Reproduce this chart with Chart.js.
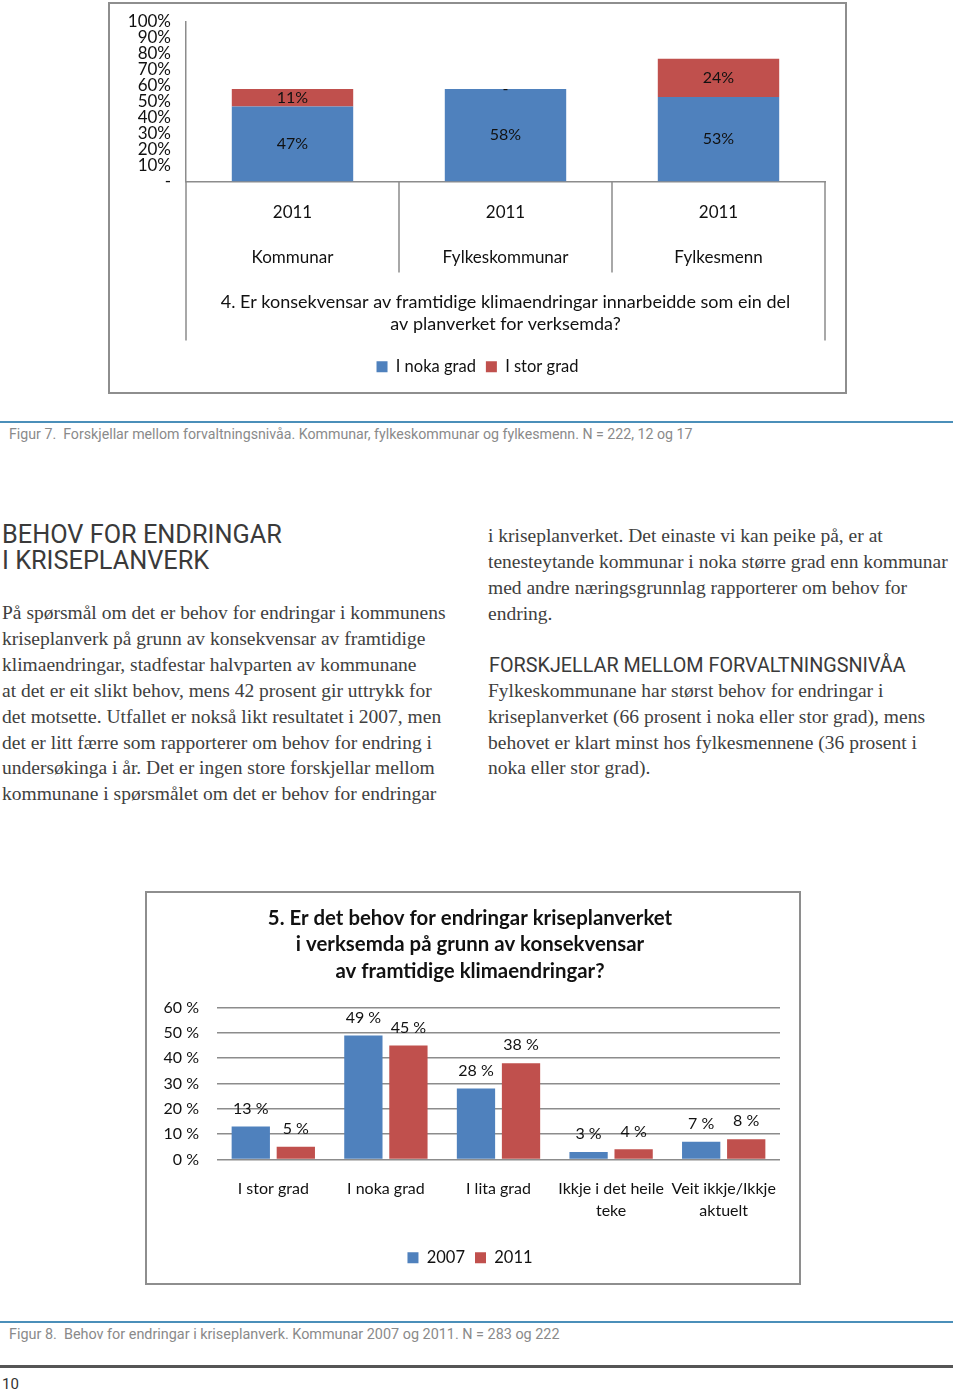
<!DOCTYPE html>
<html>
<head>
<meta charset="utf-8">
<script src="https://cdn.jsdelivr.net/npm/chart.js@4/dist/chart.umd.min.js"></script>
<style>
  body { margin: 0; background: #fff; }
  #page { position: relative; width: 960px; height: 1393px; overflow: hidden; }
  .box { position: absolute; border: 2px solid #8e8e8e; box-sizing: border-box; }
  .rule { position: absolute; left: 0; width: 953px; }
  .caption { position: absolute; left: 9px; font-family: Roboto, sans-serif; font-size: 14.2px; color: #8a8a8a; white-space: pre; }
  .head { position: absolute; font-family: Roboto, sans-serif; color: #3a3a3a; white-space: pre; }
  .col { position: absolute; font-family: "Liberation Serif", serif; font-size: 19.5px; line-height: 25.9px; color: #404040; white-space: pre; }
</style>
</head>
<body>
<div id="page">
  <div class="box" style="left:108px; top:2px; width:739px; height:392px;">
    <canvas id="chart1" width="735" height="388"></canvas>
  </div>
  <div class="rule" style="top:421px; height:2px; background:#4b8fb9;"></div>
  <div class="caption" style="top:426px;">Figur 7.  Forskjellar mellom forvaltningsnivåa. Kommunar, fylkeskommunar og fylkesmenn. N = 222, 12 og 17</div>

  <div class="head" style="left:2px; top:522px; font-size:25.3px; line-height:25.5px;">BEHOV FOR ENDRINGAR
I KRISEPLANVERK</div>
  <div class="col" style="left:2px; top:600px;">På spørsmål om det er behov for endringar i kommunens
kriseplanverk på grunn av konsekvensar av framtidige
klimaendringar, stadfestar halvparten av kommunane
at det er eit slikt behov, mens 42 prosent gir uttrykk for
det motsette. Utfallet er nokså likt resultatet i 2007, men
det er litt færre som rapporterer om behov for endring i
undersøkinga i år. Det er ingen store forskjellar mellom
kommunane i spørsmålet om det er behov for endringar</div>

  <div class="col" style="left:488px; top:523px;">i kriseplanverket. Det einaste vi kan peike på, er at
tenesteytande kommunar i noka større grad enn kommunar
med andre næringsgrunnlag rapporterer om behov for
endring.</div>
  <div class="head" style="left:489px; top:653px; font-size:19.8px; line-height:25.75px;">FORSKJELLAR MELLOM FORVALTNINGSNIVÅA</div>
  <div class="col" style="left:488px; top:678px; line-height:25.75px;">Fylkeskommunane har størst behov for endringar i
kriseplanverket (66 prosent i noka eller stor grad), mens
behovet er klart minst hos fylkesmennene (36 prosent i
noka eller stor grad).</div>

  <div class="box" style="left:145px; top:891px; width:656px; height:394px;">
    <canvas id="chart2" width="652" height="390"></canvas>
  </div>
  <div class="rule" style="top:1321px; height:2px; background:#4b8fb9;"></div>
  <div class="caption" style="top:1326px; font-size:14.4px;">Figur 8.  Behov for endringar i kriseplanverk. Kommunar 2007 og 2011. N = 283 og 222</div>
  <div class="rule" style="top:1365px; height:3px; background:#555;"></div>
  <div class="caption" style="top:1375px; left:2px; font-size:15px; color:#333;">10</div>
</div>

<script>
// Figur 7
const levels = ['Kommunar', 'Fylkeskommunar', 'Fylkesmenn'];
const surveyYear = '2011';
const nokaGrad = [47, 58, 53];
const storGrad = [11, 0, 24];
const question4 = ['4. Er konsekvensar av framtidige klimaendringar innarbeidde som ein del',
                   'av planverket for verksemda?'];

// Figur 8
const answers = ['I stor grad', 'I noka grad', 'I lita grad', ['Ikkje i det heile', 'teke'], ['Veit ikkje/Ikkje', 'aktuelt']];
const share2007 = [13, 49, 28, 3, 7];
const share2011 = [5, 45, 38, 4, 8];
const question5 = ['5. Er det behov for endringar kriseplanverket',
                   'i verksemda på grunn av konsekvensar',
                   'av framtidige klimaendringar?'];
const percentTicks = [0, 10, 20, 30, 40, 50, 60];

const BLUE = '#4f81bd';
const RED = '#c0504d';
const GRAY = '#8c8c8c';

Chart.defaults.font.family = 'Lato, sans-serif';
Chart.defaults.color = '#111';

// draw the value of each bar (inside stacked segments or above bars)
const valueLabels = {
    id: 'valueLabels',
    afterDatasetsDraw(chart, args, opts) {
        const ctx = chart.ctx;
        ctx.save();
        ctx.font = opts.font;
        ctx.fillStyle = '#111';
        ctx.textAlign = 'center';
        ctx.textBaseline = 'middle';
        chart.data.datasets.forEach((ds, i) => {
            chart.getDatasetMeta(i).data.forEach((bar, j) => {
                const v = ds.data[j];
                const y = opts.inside ? (bar.y + bar.base) / 2 : bar.y - opts.offset;
                ctx.fillText(opts.format(v), bar.x, y);
            });
        });
        ctx.restore();
    }
};

// category dividers of the multi-level axis in figur 7
const axisDividers = {
    id: 'axisDividers',
    afterDraw(chart) {
        const ctx = chart.ctx;
        const x = chart.scales.x;
        const area = chart.chartArea;
        ctx.save();
        ctx.strokeStyle = GRAY;
        ctx.lineWidth = 1.5;
        ctx.beginPath();
        for (let i = 0; i < levels.length - 1; i++) {
            const px = (x.getPixelForValue(i) + x.getPixelForValue(i + 1)) / 2;
            ctx.moveTo(px, area.bottom);
            ctx.lineTo(px, area.bottom + 91);
        }
        ctx.moveTo(area.left, area.bottom);
        ctx.lineTo(area.left, area.bottom + 159);
        ctx.moveTo(area.right, area.bottom);
        ctx.lineTo(area.right, area.bottom + 159);
        ctx.stroke();
        ctx.restore();
    }
};

// empty right-hand axis, keeps the legend centred on the whole canvas
const spacer = w => ({
    position: 'right',
    grid: { display: false, drawTicks: false },
    border: { display: false },
    ticks: { display: false },
    afterFit: s => { s.width = w; }
});

new Chart(document.getElementById('chart1'), {
    type: 'bar',
    data: {
        labels: levels.map(l => [surveyYear, '', l]),
        datasets: [
            { label: 'I noka grad', data: nokaGrad, backgroundColor: BLUE, borderWidth: 0 },
            { label: 'I stor grad', data: storGrad, backgroundColor: RED, borderWidth: 0 }
        ]
    },
    options: {
        responsive: false,
        animation: false,
        layout: { padding: { top: 18, right: 0, bottom: 7, left: 0 } },
        categoryPercentage: 1,
        barPercentage: 0.57,
        plugins: {
            legend: {
                position: 'bottom',
                labels: { boxWidth: 11, boxHeight: 11, padding: 10, color: '#111', font: { size: 16.5 } }
            },
            tooltip: { enabled: false },
            valueLabels: { inside: true, font: '16px Lato, sans-serif', format: v => v === 0 ? '-' : v + '%' }
        },
        scales: {
            x: {
                stacked: true,
                grid: { display: false, drawTicks: false },
                border: { display: true, color: GRAY, width: 1.5 },
                ticks: { padding: 20, maxRotation: 0, autoSkip: false, color: '#111', font: { size: 17, lineHeight: 1.32 } },
                title: { display: true, text: question4, color: '#111', font: { size: 18, lineHeight: 1.23 }, padding: { top: 0, bottom: 13 } },
                afterFit: s => { s.height = 167; }
            },
            y: {
                stacked: true,
                min: 0,
                max: 100,
                grid: { display: false, drawTicks: true, tickLength: 15 },
                border: { display: true, color: GRAY, width: 1.5 },
                ticks: { stepSize: 10, autoSkip: false, padding: 0, color: '#111', font: { size: 17, lineHeight: 1 },
                         callback: v => v === 0 ? '-' : v + '%' },
                afterFit: s => { s.width = 76; }
            },
            pad: spacer(20)
        }
    },
    plugins: [valueLabels, axisDividers]
});

new Chart(document.getElementById('chart2'), {
    type: 'bar',
    data: {
        labels: answers,
        datasets: [
            { label: '2007', data: share2007, backgroundColor: BLUE, borderWidth: 0 },
            { label: '2011', data: share2011, backgroundColor: RED, borderWidth: 0 }
        ]
    },
    options: {
        responsive: false,
        animation: false,
        layout: { padding: { top: 12, right: 6, bottom: 7, left: 0 } },
        categoryPercentage: 0.8,
        barPercentage: 0.85,
        plugins: {
            title: { display: true, text: question5, color: '#111',
                     font: { size: 20.4, weight: 'bold', lineHeight: 1.3 }, padding: { top: 0, bottom: 23 } },
            legend: {
                position: 'bottom',
                labels: { boxWidth: 11, boxHeight: 11, padding: 10, color: '#111', font: { size: 16.5 } }
            },
            tooltip: { enabled: false },
            valueLabels: { inside: false, offset: 18, font: '16px Lato, sans-serif', format: v => v + ' %' }
        },
        scales: {
            x: {
                grid: { display: false, drawTicks: false },
                border: { display: false },
                ticks: { padding: 18, maxRotation: 0, autoSkip: false, color: '#111', font: { size: 16, lineHeight: 1.375 } },
                afterFit: s => { s.height = 80; }
            },
            y: {
                min: 0,
                max: 60,
                grid: { color: GRAY, lineWidth: 1.5, drawTicks: false },
                border: { display: false },
                afterBuildTicks: s => { s.ticks = percentTicks.map(v => ({ value: v })); },
                ticks: { autoSkip: false, padding: 18, color: '#111', font: { size: 16, lineHeight: 1 },
                         callback: v => v + ' %' },
                afterFit: s => { s.width = 70; }
            },
            pad: spacer(13)
        }
    },
    plugins: [valueLabels]
});
</script>
</body>
</html>
